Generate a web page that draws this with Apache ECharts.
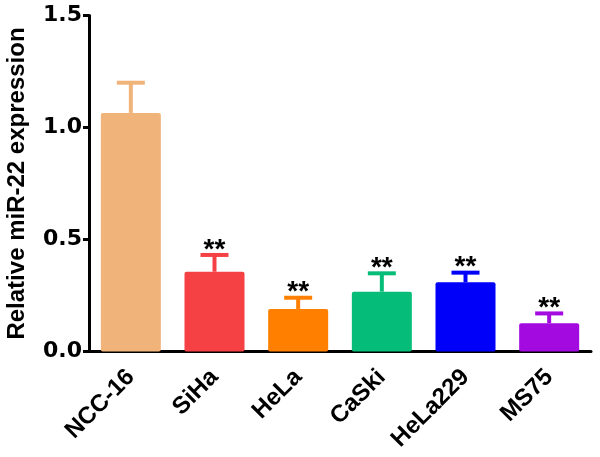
<!DOCTYPE html>
<html><head><meta charset="utf-8">
<script src="https://cdn.jsdelivr.net/npm/echarts@6/dist/echarts.min.js"></script>
<style>html,body{margin:0;padding:0;background:#fff}#c{width:600px;height:457px}</style>
</head><body><div id="c"></div>
<script>
const categories = ["NCC-16", "SiHa", "HeLa", "CaSki", "HeLa229", "MS75"];
const means = [1.065, 0.356, 0.19, 0.267, 0.309, 0.126];
const errors = [0.135, 0.075, 0.05, 0.082, 0.043, 0.044];
const marks = ["", "**", "**", "**", "**", "**"];
const colors = ["#F0B47A", "#F54044", "#FF7F00", "#05BD78", "#0000FA", "#A30AE0"];
const yTicks = [0, 0.5, 1.0, 1.5];

const font = "Liberation Sans, Arial, sans-serif";
const chart = echarts.init(document.getElementById('c'), null, {renderer: 'canvas'});
chart.setOption({
  animation: false,
  grid: {left: 89, right: 9, top: 15.5, bottom: 105.5, containLabel: false, outerBoundsMode: 'none'},
  xAxis: {
    type: 'category', data: categories,
    axisLine: {lineStyle: {color: '#000', width: 3}},
    axisTick: {alignWithLabel: true, length: 8, lineStyle: {color: '#000', width: 3}},
    axisLabel: {rotate: 45, color: '#000', fontFamily: font, fontWeight: 'bold', fontSize: 24, margin: 22}
  },
  yAxis: {
    type: 'value', min: 0, max: 1.5, interval: 0.5,
    name: 'Relative miR-22 expression', nameLocation: 'middle', nameRotate: 90, nameGap: 60,
    nameTextStyle: {color: '#000', fontFamily: font, fontWeight: 'bold', fontSize: 24},
    axisLine: {show: true, lineStyle: {color: '#000', width: 3}},
    axisTick: {show: true, length: 6, lineStyle: {color: '#000', width: 3}},
    splitLine: {show: false},
    axisLabel: {color: '#000', fontFamily: 'DejaVu Sans, sans-serif', fontWeight: 'bold', fontSize: 22, margin: 7,
      formatter: v => yTicks.includes(v) ? v.toFixed(1) : ''}
  },
  series: [
    {
      type: 'bar', barWidth: 60,
      data: means.map((v, i) => ({value: v, itemStyle: {color: colors[i], borderRadius: 2}}))
    },
    {
      type: 'custom', z: 1,
      data: means.map((v, i) => [i, v, v + errors[i], marks[i]]),
      renderItem: (params, api) => {
        const i = api.value(0);
        const base = api.coord([i, api.value(1)]);
        const top = api.coord([i, api.value(2)]);
        const c = colors[i];
        const children = [
          {type: 'line', shape: {x1: base[0], y1: base[1], x2: top[0], y2: top[1]}, style: {stroke: c, lineWidth: 4}},
          {type: 'line', shape: {x1: top[0] - 14, y1: top[1], x2: top[0] + 14, y2: top[1]}, style: {stroke: c, lineWidth: 4}}
        ];
        const m = marks[i];
        if (m) children.push({type: 'text', x: top[0], y: top[1] + 9,
          style: {text: m, fill: '#000', font: 'bold 28px ' + font, textAlign: 'center', textVerticalAlign: 'bottom'}});
        return {type: 'group', children};
      }
    }
  ]
});
</script></body></html>
